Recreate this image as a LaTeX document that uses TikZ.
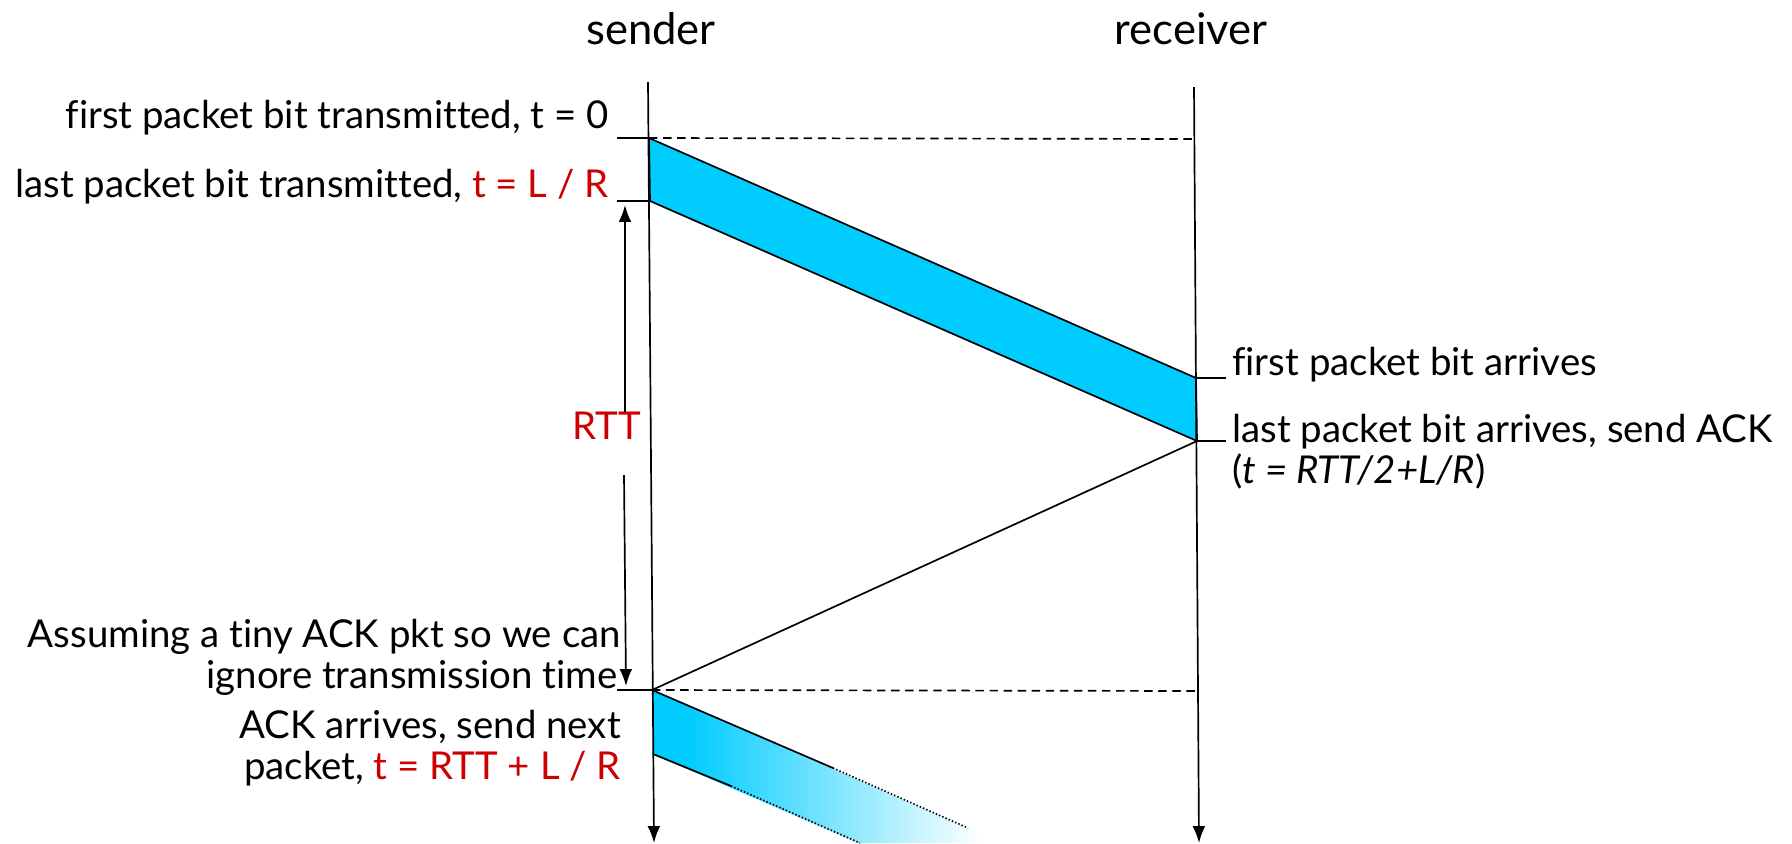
\documentclass[tikz,border=0pt]{standalone}
\usepackage{fontspec}
\setmainfont[Ligatures={NoCommon}]{Lato}
\usetikzlibrary{arrows.meta}
\definecolor{pktblue}{HTML}{00CCFF}
\definecolor{rttred}{HTML}{CC0000}
\pgfdeclarehorizontalshading{fadeblue}{100bp}{color(0bp)=(pktblue); color(30bp)=(pktblue); color(72bp)=(white); color(100bp)=(white)}
\begin{document}
\begin{tikzpicture}[x=0.025cm,y=-0.025cm,
  lbl/.style={font=\fontsize{27.3}{32}\selectfont, inner sep=0pt},
  ttl/.style={font=\fontsize{31}{36}\selectfont, inner sep=0pt},
  ln/.style={line width=1.2pt},
  arr/.style={line width=1.2pt, -{Latex[length=12pt,width=9pt]}},
  dash line/.style={line width=1.2pt, dash pattern=on 6pt off 4pt},
  dot line/.style={line width=1.2pt, dash pattern=on 1pt off 1.5pt},
  ]
\useasboundingbox (0,0) rectangle (1792,843);
% timelines
\coordinate (sTop) at (648,82);
\coordinate (sBot) at (654,843);
\coordinate (rTop) at (1194,87);
\coordinate (rBot) at (1199,843);
% event points
\coordinate (s0) at (649,138);
\coordinate (s1) at (650,201);
\coordinate (r0) at (1196,378);
\coordinate (r1) at (1197,441);
\coordinate (s2) at (652,690);
\coordinate (s3) at (653,754);
\coordinate (rd0) at (1194,139);
\coordinate (rd2) at (1198,691);
% packet 1
\filldraw[fill=pktblue, ln] (s0) -- (r0) -- (r1) -- (s1) -- cycle;
% packet 2 (fading)
\shade[shading=fadeblue] (s2) -- (1003,843) -- (858,843) -- (s3) -- cycle;
\coordinate (p2a) at (833,768);
\coordinate (p2b) at (968,828);
\coordinate (p2c) at (731,786);
\coordinate (p2d) at (860,843);
\draw[ln] (s2) -- (p2a);
\draw[dot line] (p2a) -- (p2b);
\draw[ln] (s3) -- (p2c);
\draw[dot line] (p2c) -- (p2d);
% timelines drawn on top
\draw[arr] (sTop) -- (sBot);
\draw[arr] (rTop) -- (rBot);
% dashed horizontals
\draw[dash line] (s0) -- (rd0);
\draw[dash line] (s2) -- (rd2);
% ACK
\draw[ln] (r1) -- (s2);
% ticks
\coordinate (t0) at (617,138);
\coordinate (t1) at (617,201);
\coordinate (t2) at (617,690);
\coordinate (u0) at (1226,378);
\coordinate (u1) at (1226,441);
\draw[ln] (t0) -- (s0);
\draw[ln] (t1) -- (s1);
\draw[ln] (t2) -- (s2);
\draw[ln] (r0) -- (u0);
\draw[ln] (r1) -- (u1);
% RTT
\node[lbl, text=rttred] (rtt) at (607,426) {RTT};
\coordinate (rttA) at (625,205);
\coordinate (rttB) at (626,686);
\coordinate (rttU) at (625,412);
\coordinate (rttD) at (624,475);
\draw[arr] (rttU) -- (rttA);
\draw[arr] (rttD) -- (rttB);
% titles
\node[ttl] (snd) at (651,29) {sender};
\node[ttl] (rcv) at (1191,29) {receiver};
% labels
\node[lbl, anchor=east] (l0) at (609,118) {first packet bit transmitted, t = 0};
\node[lbl, anchor=east] (l1) at (609,187) {last packet bit transmitted, \textcolor{rttred}{t = L / R}};
\node[lbl, anchor=west] (l2) at (1232,365) {first packet bit arrives};
\node[lbl, anchor=west] (l3) at (1232,432) {last packet bit arrives, send ACK};
\node[lbl, anchor=west] (l4) at (1232,471) {(\textit{t = RTT/2+L/R})};
\node[lbl, anchor=east] (l5) at (621,637) {Assuming a tiny ACK pkt so we can};
\node[lbl, anchor=east] (l6) at (618,678) {ignore transmission time};
\node[lbl, anchor=east] (l7) at (621,727) {ACK arrives, send next};
\node[lbl, anchor=east] (l8) at (621,769) {packet, \textcolor{rttred}{t = RTT + L / R}};
\end{tikzpicture}
\end{document}
